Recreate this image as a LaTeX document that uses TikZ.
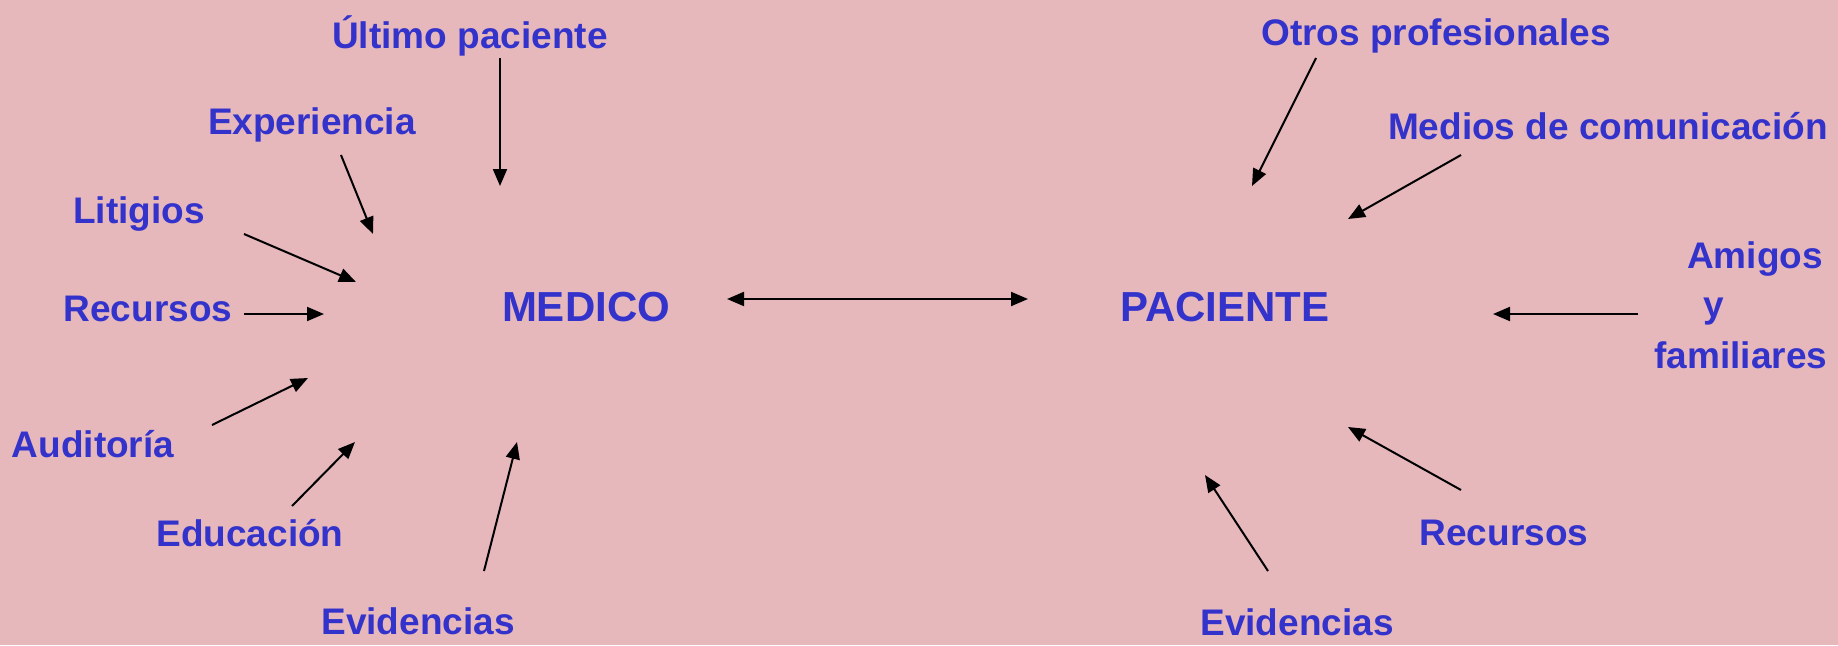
\documentclass[tikz,border=0pt]{standalone}
\usepackage{fontspec}
\setmainfont{Liberation Sans}
\usetikzlibrary{arrows.meta}
\definecolor{bgpink}{RGB}{230,184,188}
\definecolor{lblue}{RGB}{51,51,204}
\tikzset{
  lbl/.style={text=lblue, font=\bfseries\fontsize{37}{44}\selectfont, inner sep=0pt, anchor=center},
  big/.style={text=lblue, font=\bfseries\fontsize{42}{50}\selectfont, inner sep=0pt, anchor=center},
  arr/.style={draw=black, line width=2pt, -{Triangle[length=17pt,width=14pt]}},
  darr/.style={draw=black, line width=2pt, {Triangle[length=17pt,width=14pt]}-{Triangle[length=17pt,width=14pt]}}
}
\begin{document}
\begin{tikzpicture}[x=1pt,y=-1pt]
\fill[bgpink] (0,0) rectangle (1838,645);
\useasboundingbox (0,0) rectangle (1838,645);
% labels
\node[lbl] (ultimo) at (470,36) {Último paciente};
\node[lbl] (exper) at (312,125) {Experiencia};
\node[lbl] (litig) at (139,214) {Litigios};
\node[lbl] (recL) at (148,309) {Recursos};
\node[big] (medico) at (586,307) {MEDICO};
\node[big] (paciente) at (1225,307) {PACIENTE};
\node[lbl] (audit) at (93,444) {Auditoría};
\node[lbl] (educ) at (250,533) {Educación};
\node[lbl] (evidL) at (418,621) {Evidencias};
\node[lbl] (otros) at (1436,36) {Otros profesionales};
\node[lbl] (medios) at (1608,126) {Medios de comunicación};
\node[lbl] (amigos) at (1755,259) {Amigos};
\node[lbl] (yy) at (1714,312) {y};
\node[lbl] (famil) at (1741,355) {familiares};
\node[lbl] (recR) at (1504,533) {Recursos};
\node[lbl] (evidR) at (1297,622) {Evidencias};
% arrow endpoints
\coordinate (u1) at (500,58); \coordinate (u2) at (500,186);
\coordinate (e1) at (341,155); \coordinate (e2) at (373,234);
\coordinate (l1) at (244,234); \coordinate (l2) at (356,282);
\coordinate (r1) at (244,314); \coordinate (r2) at (324,314);
\coordinate (a1) at (212,425); \coordinate (a2) at (308,378);
\coordinate (d1) at (292,506); \coordinate (d2) at (355,442);
\coordinate (v1) at (484,571); \coordinate (v2) at (517,442);
\coordinate (m1) at (727,299); \coordinate (m2) at (1028,299);
\coordinate (o1) at (1316,58); \coordinate (o2) at (1252,186);
\coordinate (c1) at (1461,155); \coordinate (c2) at (1348,219);
\coordinate (f1) at (1638,314); \coordinate (f2) at (1493,314);
\coordinate (s1) at (1461,490); \coordinate (s2) at (1348,427);
\coordinate (w1) at (1268,571); \coordinate (w2) at (1205,475);
% arrows
\draw[arr] (u1) -- (u2);
\draw[arr] (e1) -- (e2);
\draw[arr] (l1) -- (l2);
\draw[arr] (r1) -- (r2);
\draw[arr] (a1) -- (a2);
\draw[arr] (d1) -- (d2);
\draw[arr] (v1) -- (v2);
\draw[darr] (m1) -- (m2);
\draw[arr] (o1) -- (o2);
\draw[arr] (c1) -- (c2);
\draw[arr] (f1) -- (f2);
\draw[arr] (s1) -- (s2);
\draw[arr] (w1) -- (w2);
\end{tikzpicture}
\end{document}
